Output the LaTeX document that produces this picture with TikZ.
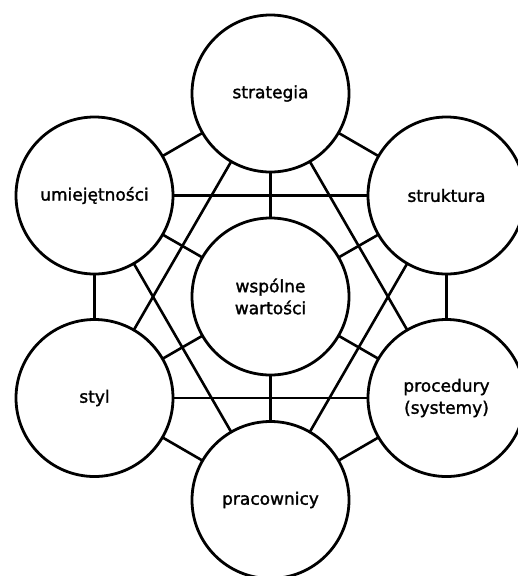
\documentclass[tikz,border=0pt]{standalone}
\usepackage{fontspec}
\newfontfamily\labfont[FakeBold=1.6]{DejaVu Sans}
\usetikzlibrary{backgrounds}
\begin{document}
\begin{tikzpicture}[x=1pt,y=-1pt,
  sev/.style={circle,draw=black,line width=2.8pt,fill=white,minimum size=157pt,inner sep=0pt,align=center,
    font=\labfont\fontsize{17}{22}\selectfont},
  link/.style={draw=black,line width=2.6pt}]
\useasboundingbox (0,0) rectangle (518,576);
\node[sev] (sv) at (270.5,296.5) {wspólne\\wartości};
\node[sev] (st) at (270.5,93.5) {strategia};
\node[sev] (um) at (94.5,195.5) {umiejętności};
\node[sev] (sk) at (446.5,195.5) {struktura};
\node[sev] (sy) at (94.5,398) {styl};
\node[sev] (pr) at (446.5,398) {procedury\\(systemy)};
\node[sev] (pc) at (270.5,500) {pracownicy};
\begin{scope}[on background layer]
\draw[link] (st.center) -- (um.center);
\draw[link] (st.center) -- (sk.center);
\draw[link] (um.center) -- (sy.center);
\draw[link] (sk.center) -- (pr.center);
\draw[link] (sy.center) -- (pc.center);
\draw[link] (pr.center) -- (pc.center);
\draw[link] (um.center) -- (sk.center);
\draw[link] (sy.center) -- (pr.center);
\draw[link] (st.center) -- (sy.center);
\draw[link] (st.center) -- (pr.center);
\draw[link] (um.center) -- (pc.center);
\draw[link] (sk.center) -- (pc.center);
\draw[link] (sv.center) -- (st.center);
\draw[link] (sv.center) -- (um.center);
\draw[link] (sv.center) -- (sk.center);
\draw[link] (sv.center) -- (sy.center);
\draw[link] (sv.center) -- (pr.center);
\draw[link] (sv.center) -- (pc.center);
\end{scope}
\end{tikzpicture}
\end{document}
